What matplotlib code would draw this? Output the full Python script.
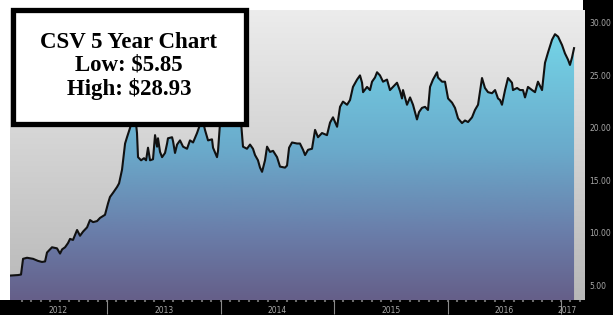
import numpy as np
import matplotlib
matplotlib.use("Agg")
from matplotlib import pyplot as plt
from matplotlib.colors import LinearSegmentedColormap
from matplotlib.patches import Rectangle

# Price history (decimal year, close)
dates = [
    2012.145, 2012.216, 2012.242, 2012.260, 2012.295, 2012.348, 2012.392, 2012.427,
    2012.454, 2012.471, 2012.515, 2012.559, 2012.586, 2012.604, 2012.630, 2012.656,
    2012.674, 2012.700, 2012.736, 2012.762, 2012.789, 2012.824, 2012.850, 2012.877,
    2012.912, 2012.938, 2012.982, 2013.009, 2013.026, 2013.053, 2013.088, 2013.106,
    2013.132, 2013.159, 2013.176, 2013.203, 2013.229, 2013.247, 2013.264, 2013.273,
    2013.300, 2013.326, 2013.344, 2013.361, 2013.379, 2013.405, 2013.423, 2013.441,
    2013.449, 2013.467, 2013.485, 2013.511, 2013.529, 2013.537, 2013.573, 2013.582,
    2013.599, 2013.617, 2013.643, 2013.670, 2013.705, 2013.731, 2013.758, 2013.793,
    2013.819, 2013.837, 2013.863, 2013.890, 2013.925, 2013.934, 2013.969, 2013.978,
    2013.996, 2014.022, 2014.066, 2014.110, 2014.154, 2014.181, 2014.198, 2014.233,
    2014.260, 2014.286, 2014.304, 2014.330, 2014.348, 2014.366, 2014.392, 2014.410,
    2014.436, 2014.463, 2014.498, 2014.524, 2014.568, 2014.586, 2014.604, 2014.630,
    2014.674, 2014.700, 2014.727, 2014.745, 2014.771, 2014.806, 2014.833, 2014.859,
    2014.894, 2014.938, 2014.965, 2014.991, 2015.027, 2015.053, 2015.079, 2015.115,
    2015.141, 2015.167, 2015.203, 2015.229, 2015.247, 2015.256, 2015.291, 2015.317,
    2015.335, 2015.361, 2015.379, 2015.405, 2015.432, 2015.467, 2015.493, 2015.520,
    2015.555, 2015.582, 2015.599, 2015.608, 2015.643, 2015.670, 2015.696, 2015.731,
    2015.749, 2015.775, 2015.802, 2015.828, 2015.846, 2015.872, 2015.908, 2015.916,
    2015.952, 2015.978, 2016.005, 2016.040, 2016.066, 2016.093, 2016.128, 2016.154,
    2016.181, 2016.216, 2016.242, 2016.269, 2016.304, 2016.330, 2016.357, 2016.392,
    2016.419, 2016.445, 2016.463, 2016.480, 2016.507, 2016.533, 2016.568, 2016.577,
    2016.613, 2016.639, 2016.665, 2016.683, 2016.709, 2016.745, 2016.771, 2016.797,
    2016.833, 2016.859, 2016.886, 2016.921, 2016.947, 2016.974, 2017.009, 2017.035,
    2017.062, 2017.079, 2017.097, 2017.115,
]
prices = [
    5.90, 5.95, 6.00, 7.50, 7.60, 7.50, 7.30, 7.20,
    7.25, 8.10, 8.60, 8.50, 8.00, 8.40, 8.60, 9.00,
    9.40, 9.30, 10.25, 9.70, 10.10, 10.50, 11.20, 11.00,
    11.10, 11.40, 11.70, 12.80, 13.40, 13.80, 14.35, 14.70,
    16.00, 18.50, 19.10, 20.00, 21.00, 21.30, 19.50, 17.20,
    16.90, 17.10, 16.90, 18.10, 16.90, 17.00, 19.30, 18.20,
    19.00, 17.70, 17.20, 17.60, 18.50, 19.00, 19.10, 18.70,
    17.60, 18.40, 18.80, 18.20, 18.00, 18.80, 18.60, 19.50,
    20.30, 21.00, 19.80, 18.80, 18.90, 18.10, 17.20, 17.80,
    20.50, 21.30, 21.50, 21.20, 21.40, 20.50, 18.20, 18.00,
    18.40, 18.00, 17.40, 16.90, 16.20, 15.80, 16.90, 18.20,
    17.70, 17.80, 17.20, 16.30, 16.20, 16.40, 18.10, 18.60,
    18.50, 18.50, 17.90, 17.40, 17.90, 18.00, 19.80, 19.10,
    19.50, 19.30, 20.50, 21.00, 20.10, 22.00, 22.50, 22.20,
    22.65, 23.90, 24.60, 25.00, 24.30, 23.40, 23.90, 23.60,
    24.40, 24.80, 25.30, 25.00, 24.40, 24.60, 23.60, 23.90,
    24.30, 23.50, 22.80, 23.60, 22.20, 22.90, 22.20, 20.80,
    21.50, 21.90, 22.00, 21.70, 23.90, 24.60, 25.30, 24.80,
    24.40, 24.40, 22.80, 22.40, 21.90, 20.90, 20.45, 20.70,
    20.55, 21.00, 21.70, 22.20, 24.75, 23.80, 23.40, 23.30,
    23.60, 22.80, 22.65, 22.20, 23.60, 24.75, 24.30, 23.60,
    23.80, 23.60, 23.60, 22.90, 23.90, 23.60, 23.40, 24.40,
    23.60, 26.20, 27.20, 28.40, 28.93, 28.70, 27.90, 27.10,
    26.50, 26.00, 26.70, 27.60,
]

year_bounds = [2013, 2014, 2015, 2016, 2017]
year_label_pos = [2012.57, 2013.5, 2014.5, 2015.5, 2016.5, 2017.05]
year_labels = ["2012", "2013", "2014", "2015", "2016", "2017"]
price_ticks = [5, 10, 15, 20, 25, 30]
box_lines = ["CSV 5 Year Chart", "Low: $5.85", "High: $28.93"]

x_lo, x_hi = 2012.145, 2017.2115
y_lo, y_hi = 3.57, 31.24

fig = plt.figure(figsize=(6.13, 3.15), dpi=100, facecolor="white")

# black panels on the right and bottom (behind the axes and its labels)
fig.patches.append(Rectangle((583 / 613, 0), 30 / 613, 1, transform=fig.transFigure,
                             facecolor="black", edgecolor="none", zorder=-1))
fig.patches.append(Rectangle((0, 0), 1, 15 / 315, transform=fig.transFigure,
                             facecolor="black", edgecolor="none", zorder=-1))

ax = fig.add_axes([10 / 613, 15 / 315, 575 / 613, 290 / 315])

# gray background gradient
bg = LinearSegmentedColormap.from_list("bg", ["#b8b8b8", "#d2d2d2", "#ececec"])
ax.imshow(np.linspace(0, 1, 256).reshape(-1, 1), cmap=bg, aspect="auto", origin="lower",
          extent=[x_lo, x_hi, y_lo, y_hi], zorder=0)

# gradient fill under the price line
fc = LinearSegmentedColormap.from_list(
    "fill", [(0.0, "#655f89"), (0.25, "#6a7eaa"), (0.55, "#6aaacb"), (1.0, "#74d6e8")])
im = ax.imshow(np.linspace(0, 1, 256).reshape(-1, 1), cmap=fc, aspect="auto", origin="lower",
               extent=[x_lo, x_hi, y_lo, 29.5], zorder=1)
poly = ax.fill_between(dates, prices, y_lo, facecolor="none", edgecolor="none")
im.set_clip_path(poly.get_paths()[0], transform=ax.transData)

ax.plot(dates, prices, color="#111111", linewidth=1.5, zorder=2)

ax.set_xlim(x_lo, x_hi)
ax.set_ylim(y_lo, y_hi)
for s in ax.spines.values():
    s.set_visible(False)

# y axis on the right
ax.yaxis.tick_right()
ax.set_yticks(price_ticks)
ax.set_yticklabels(["%.2f" % v for v in price_ticks])
ax.tick_params(axis="y", length=0, pad=3, labelsize=5.5, labelcolor="#a8a8a8")

# year separators and labels
ax.set_xticks(year_bounds)
ax.set_xticklabels([])
ax.set_xticks(year_label_pos, minor=True)
ax.set_xticklabels(year_labels, minor=True)
ax.tick_params(axis="x", which="major", length=10, width=0.8, color="#8a8a8a", direction="out")
ax.tick_params(axis="x", which="minor", length=0, pad=4.5, labelsize=5.5, labelcolor="#a8a8a8")

# small monthly dashes along the top of the black strip
sec = ax.secondary_xaxis("bottom")
sec.set_xticks(np.arange(2012.25, 2017.2, 1 / 12))
sec.set_xticklabels([])
sec.tick_params(length=1.5, width=1.5, color="#6a6a6a")
sec.spines["bottom"].set_visible(False)

# title box
fig.patches.append(Rectangle((12.5 / 613, (315 - 124) / 315), 233 / 613, 114 / 315,
                             transform=fig.transFigure, facecolor="white", edgecolor="black",
                             linewidth=3.8, zorder=5))
fig.text(129 / 613, (315 - 66) / 315, "\n".join(box_lines), ha="center", va="center",
         family="Liberation Serif", weight="bold", fontsize=16.5, linespacing=1.1,
         color="black", zorder=6)

fig.savefig("out.png", dpi=100, facecolor="white")
